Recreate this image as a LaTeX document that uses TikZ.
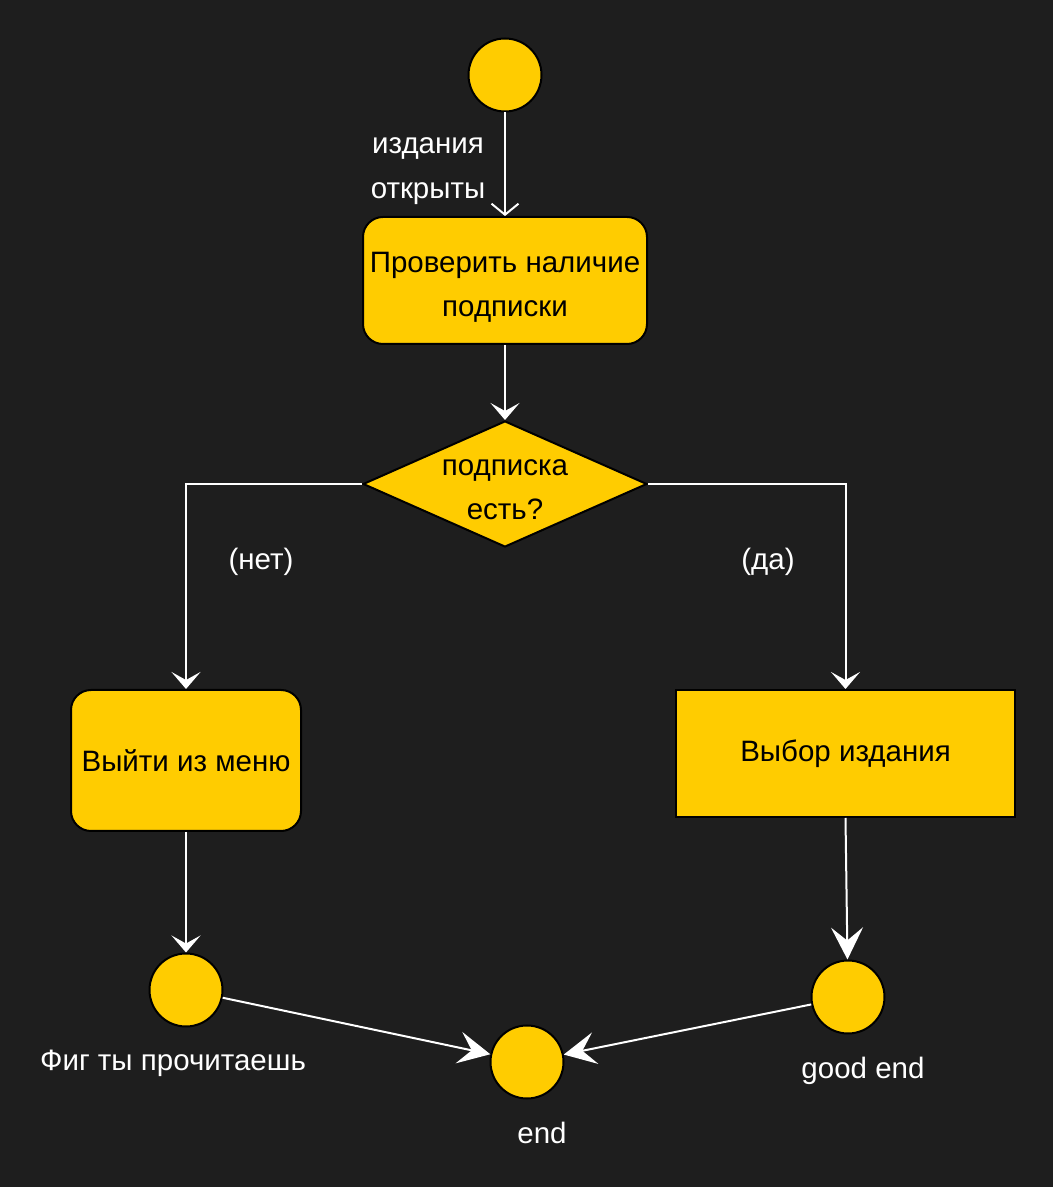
\documentclass[tikz,border=0pt]{standalone}
\usepackage{fontspec}
\setmainfont{Liberation Sans}
\usetikzlibrary{shapes.geometric,arrows.meta}
\begin{document}
\begin{tikzpicture}[x=1pt,y=1pt,
  flowline/.style={draw=white,line width=2pt},
  cls/.style={-{Stealth[length=17pt,width=29pt,inset=8pt]}},
  bigcls/.style={-{Stealth[length=32pt,width=32pt,inset=13pt]}},
  opn/.style={-{Straight Barb[length=11pt,width=27pt]}},
  state/.style={circle,draw=black,line width=2pt,fill=fillColor,minimum size=73pt,inner sep=0pt},
  txt/.style={text=white,font=\fontsize{29.5}{45}\selectfont,align=center,inner sep=0pt},
  intxt/.style={text=black,font=\fontsize{29.5}{44}\selectfont,align=center,inner sep=0pt}]
\definecolor{bgColor}{RGB}{30,30,30}
\definecolor{fillColor}{RGB}{255,204,0}
\path[use as bounding box,fill=bgColor] (0,0) rectangle (1053,1187);

\node[state] (start) at (505,1112) {};
\node[draw=black,line width=2pt,fill=fillColor,rounded corners=20pt,minimum width=284pt,minimum height=127pt,
  label={[intxt,yshift=-7pt]center:{Проверить наличие\\подписки}}] (chk) at (505,906.5) {};
\node[diamond,draw=black,line width=2pt,fill=fillColor,minimum width=284pt,minimum height=126pt,inner sep=0pt,
  label={[intxt,yshift=-6pt]center:{подписка\\есть?}}] (ask) at (505,703) {};
\node[intxt,draw=black,line width=2pt,fill=fillColor,rounded corners=20pt,minimum width=230pt,minimum height=141pt] (quit) at (186,426.5) {Выйти из меню};
\node[intxt,draw=black,line width=2pt,fill=fillColor,minimum width=339pt,minimum height=127pt] (sel) at (845.5,433.5) {Выбор издания};
\node[state] (fail) at (186,197) {};
\node[state] (good) at (848,190) {};
\node[state] (end) at (527,125) {};

\node[txt] (opened) at (428,1015.5) {издания\\открыты};
\node[txt] (no) at (261,625) {(нет)};
\node[txt] (yes) at (768,625) {(да)};
\node[txt] (failtxt) at (173,124) {Фиг ты прочитаешь};
\node[txt] (goodtxt) at (863,116) {good end};
\node[txt] (endtxt) at (542,54) {end};

\draw[flowline,opn] (start) -- (chk);
\draw[flowline,cls] (chk) -- (ask);
\draw[flowline,cls] (ask.west) -| (quit.north);
\draw[flowline,cls] (ask.east) -| (sel.north);
\draw[flowline,cls] (quit) -- (fail);
\draw[flowline,bigcls] (sel.south) -- (good);
\draw[flowline,bigcls] (fail) -- (end);
\draw[flowline,bigcls] (good) -- (end);
\end{tikzpicture}
\end{document}
